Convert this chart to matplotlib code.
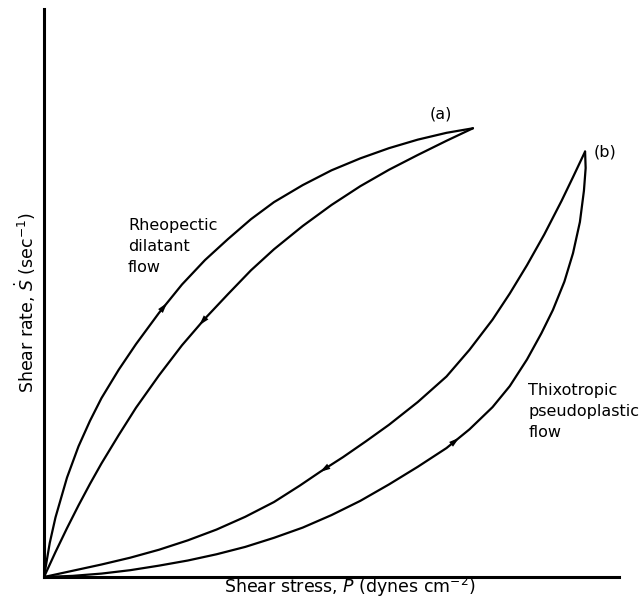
import numpy as np
import matplotlib.pyplot as plt

# Hysteresis loops, shear rate vs shear stress (arbitrary units, 0-100)
# (a) rheopectic dilatant: outward (up) curve and return curve
a_up_x = [0, 1, 2, 4, 6, 8, 10, 13, 16, 20, 24, 28, 32, 36, 40, 45, 50, 55, 60, 65, 70, 74.6]
a_up_y = [0, 6.0, 10.5, 17.5, 23.0, 27.5, 31.5, 36.5, 41.0, 46.5, 51.5, 55.8, 59.5, 63.0,
          66.0, 69.0, 71.6, 73.7, 75.5, 77.0, 78.2, 79.0]
a_down_x = [74.6, 70, 65, 60, 55, 50, 45, 40, 36, 32, 28, 24, 20, 16, 13, 10, 8, 6, 4, 2, 0]
a_down_y = [79.0, 76.8, 74.3, 71.7, 68.8, 65.5, 61.8, 57.7, 54.0, 49.8, 45.5, 40.8, 35.5,
            29.8, 25.0, 20.0, 16.4, 12.6, 8.6, 4.4, 0]

# (b) thixotropic pseudoplastic: outward (up) curve and return curve
b_up_x = [0, 5, 10, 15, 20, 25, 30, 35, 40, 45, 50, 55, 60, 65, 70, 74, 78, 81, 84, 86.5,
          88.5, 90.5, 92, 93.2, 93.9, 94.2, 94.1]
b_up_y = [0, 0.2, 0.6, 1.2, 2.0, 2.9, 4.0, 5.3, 6.9, 8.7, 10.9, 13.4, 16.3, 19.4, 22.7, 26.0,
          29.9, 33.6, 38.3, 42.9, 47.0, 52.0, 57.0, 62.5, 68.0, 72.0, 74.9]
b_down_x = [94.1, 92, 90, 87, 84, 81, 78, 74, 70, 65, 60, 56, 52, 48, 44.5, 40, 35, 30, 25,
            20, 15, 10, 5, 0]
b_down_y = [74.9, 70.4, 66.2, 60.3, 54.9, 49.9, 45.3, 40.0, 35.3, 30.8, 26.8, 23.9, 21.1,
            18.5, 16.1, 13.2, 10.6, 8.35, 6.45, 4.8, 3.4, 2.2, 1.1, 0]

# x position of the direction arrow on each curve
a_up_arrow = 21.4
a_down_arrow = 27.0
b_up_arrow = 72.2
b_down_arrow = 48.0


def point_on(xs, ys, x):
    xs = np.asarray(xs, float)
    ys = np.asarray(ys, float)
    order = np.argsort(xs)
    return x, np.interp(x, xs[order], ys[order])


fig = plt.figure(figsize=(6.4, 6.1), dpi=100)
ax = fig.add_axes([44 / 640, 33 / 610, 575 / 640, 568 / 610])

curves = [
    (a_up_x, a_up_y, a_up_arrow, +1),
    (a_down_x, a_down_y, a_down_arrow, -1),
    (b_up_x, b_up_y, b_up_arrow, +1),
    (b_down_x, b_down_y, b_down_arrow, -1),
]
for xs, ys, xa, sense in curves:
    ax.plot(xs, ys, color="black", lw=1.6, solid_joinstyle="round", solid_capstyle="round")
    tip = point_on(xs, ys, xa)
    tail = point_on(xs, ys, xa - sense * 1.2)
    ax.annotate("", xy=tip, xytext=tail,
                arrowprops=dict(arrowstyle="-|>,head_length=0.75,head_width=0.22",
                                color="black", lw=0, shrinkA=0, shrinkB=0))

ax.set_xlim(0, 100)
ax.set_ylim(0, 100)
for side in ("top", "right"):
    ax.spines[side].set_visible(False)
for side in ("left", "bottom"):
    ax.spines[side].set_linewidth(2.2)
ax.set_xticks([])
ax.set_yticks([])
ax.patch.set_visible(False)

fs = 11.5
ax.text(69.0, 81.5, "(a)", fontsize=fs, ha="center", va="center")
ax.text(97.6, 74.8, "(b)", fontsize=fs, ha="center", va="center")
ax.text(14.6, 58.1, "Rheopectic\ndilatant\nflow", fontsize=fs, ha="left", va="center",
        linespacing=1.5)
ax.text(84.2, 29.2, "Thixotropic\npseudoplastic\nflow", fontsize=fs, ha="left", va="center",
        linespacing=1.5)

fig.text(350 / 640, 1 - 587 / 610, r"Shear stress, $\mathit{P}$ (dynes cm$^{-2}$)",
         fontsize=12.5, ha="center", va="center")
fig.text(25 / 640, 1 - 303 / 610, r"Shear rate, $\dot{S}$ (sec$^{-1}$)",
         fontsize=12.5, ha="center", va="center", rotation=90)

fig.savefig("out.png", dpi=100)
